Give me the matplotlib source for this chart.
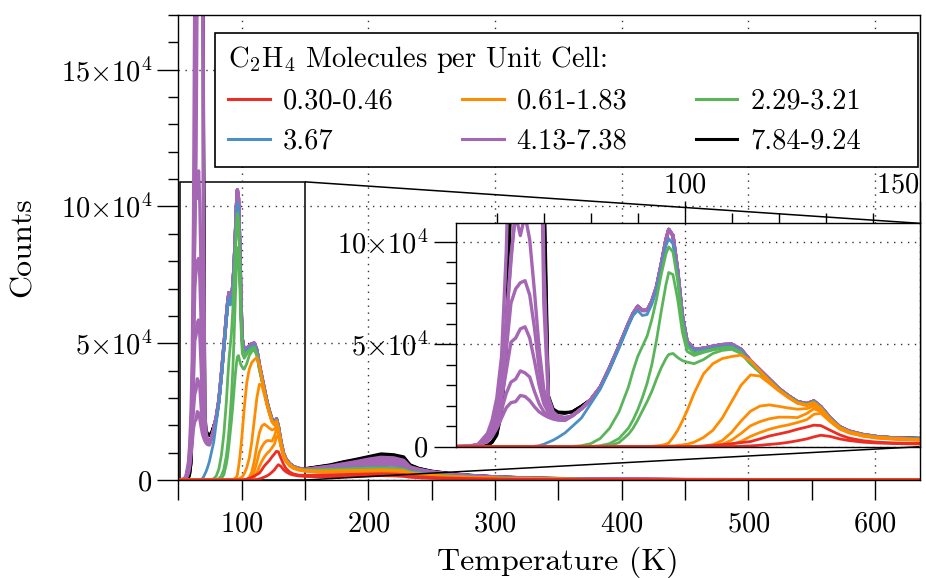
import matplotlib
matplotlib.use('Agg')
import matplotlib.pyplot as plt
from matplotlib.ticker import MultipleLocator, FixedLocator, FixedFormatter
from matplotlib.lines import Line2D
from matplotlib.patches import Rectangle
from mpl_toolkits.axes_grid1.inset_locator import mark_inset

plt.rcParams['font.family'] = 'cmr10'
plt.rcParams['mathtext.fontset'] = 'cm'
plt.rcParams['axes.formatter.use_mathtext'] = True
plt.rcParams['axes.unicode_minus'] = False

# ---------------- data (counts in thousands) ----------------
temps_low = [50, 54, 56, 58, 59, 60, 61, 62, 63, 64,
             65, 66, 67, 68, 69, 70, 71, 72, 73, 74.5]
temps_mid = [76, 78, 80, 82, 84, 86, 88, 89, 90, 91,
             92, 93, 94, 95, 96, 96.6, 97.5, 98.5, 99.5, 100.5,
             102, 104, 106, 108, 110, 112, 114, 116, 118, 120,
             122, 124, 126, 127.5, 129, 131, 133, 135, 138, 141,
             145]
temps_high = [150, 160, 170, 180, 190, 200, 210, 220, 228, 233,
              240, 250, 265, 280, 300, 330, 370, 450, 635]

zero_low = [0, 0, 0, 0, 0, 0, 0, 0, 0, 0, 0, 0, 0, 0, 0, 0, 0, 0, 0, 0]

red_mid = [
    [0, 0, 0, 0, 0, 0, 0, 0, 0, 0, 0, 0, 0, 0, 0, 0, 0, 0, 0, 0,
     0, 0, 0, 0, 0.1, 0.2, 0.4, 0.7, 1.1, 1.5, 2.1, 2.9, 3.8, 4.8, 5.6, 5.0, 3.8, 3.0, 2.2, 1.8, 1.5],
    [0, 0, 0, 0, 0, 0, 0, 0, 0, 0, 0, 0, 0, 0, 0, 0, 0, 0, 0, 0,
     0.1, 0.3, 0.6, 1.0, 1.5, 2.0, 2.5, 3.8, 5.2, 6.2, 7.2, 8.5, 9.6, 10.5, 10.3, 8.0, 5.8, 4.2, 2.9, 2.2, 1.8],
]
red_high = [
    [1.3, 1.2, 1.2, 1.3, 1.4, 1.5, 1.6, 1.5, 1.3, 1.0, 0.8, 0.6, 0.45, 0.35, 0.25, 0.15, 0.1, 0.05, 0.02],
    [1.7, 1.8, 1.9, 2.0, 2.1, 2.2, 2.3, 2.2, 2.0, 1.5, 1.2, 0.9, 0.7, 0.5, 0.35, 0.2, 0.12, 0.06, 0.02],
]

orange_mid = [
    [0, 0, 0, 0, 0, 0, 0, 0, 0, 0, 0, 0, 0, 0, 0, 0, 0, 0, 0, 0,
     0, 0, 0, 0.3, 1.0, 2.6, 5.0, 6.9, 8.5, 9.7, 10.6, 11.8, 13.2, 15.8, 16.3, 12.2, 8.6, 6.7, 5.1, 4.2, 3.6],
    [0, 0, 0, 0, 0, 0, 0, 0, 0, 0, 0, 0, 0, 0, 0, 0, 0, 0, 0, 0,
     0, 0, 0.3, 1.2, 3.2, 6.5, 10.2, 12.2, 13.6, 14.4, 14.4, 14.2, 16.2, 18.5, 17.2, 12.5, 8.9, 6.9, 5.3, 4.3, 3.7],
    [0, 0, 0, 0, 0, 0, 0, 0, 0, 0, 0, 0, 0, 0, 0, 0, 0, 0, 0, 0,
     0, 0.3, 1.0, 3.0, 7.0, 12.5, 17.3, 19.8, 20.4, 19.7, 18.9, 18.3, 18.6, 19.8, 17.8, 12.7, 9.0, 7.0, 5.4, 4.4, 3.8],
    [0, 0, 0, 0, 0, 0, 0, 0, 0, 0, 0, 0, 0, 0, 0.2, 0.3, 0.4, 0.6, 0.9, 1.2,
     2.2, 4.5, 8.0, 14.0, 22.0, 30.0, 35.0, 34.5, 31.0, 27.3, 24.0, 21.2, 20.0, 21.0, 18.4, 13.1, 9.2, 7.1, 5.5, 4.5, 3.85],
    [0, 0, 0, 0, 0, 0, 0, 0, 0, 0, 0.1, 0.2, 0.4, 0.7, 1.2, 1.8, 4.5, 8.0, 12.5, 17.5,
     26.0, 35.5, 40.5, 43.0, 44.0, 44.7, 42.0, 37.0, 32.2, 27.8, 24.4, 21.4, 20.4, 21.5, 18.7, 13.3, 9.3, 7.2, 5.6, 4.6, 3.9],
]
orange_high = [
    [3.2, 2.9, 2.85, 2.9, 3.0, 3.05, 3.1, 3.0, 2.8, 2.2, 1.85, 1.45, 1.05, 0.8, 0.57, 0.33, 0.19, 0.07, 0.02],
    [3.3, 3.0, 3.0, 3.05, 3.15, 3.2, 3.25, 3.15, 2.95, 2.3, 1.95, 1.5, 1.1, 0.84, 0.6, 0.35, 0.2, 0.08, 0.03],
    [3.4, 3.1, 3.1, 3.2, 3.3, 3.35, 3.4, 3.3, 3.1, 2.4, 2.0, 1.6, 1.15, 0.88, 0.62, 0.36, 0.21, 0.08, 0.03],
    [3.45, 3.2, 3.2, 3.3, 3.4, 3.5, 3.55, 3.45, 3.2, 2.5, 2.1, 1.65, 1.2, 0.92, 0.65, 0.38, 0.22, 0.08, 0.03],
    [3.5, 3.3, 3.3, 3.4, 3.5, 3.6, 3.7, 3.6, 3.35, 2.6, 2.2, 1.7, 1.25, 0.95, 0.68, 0.4, 0.23, 0.09, 0.03],
]

green_mid = [
    [0, 0, 0, 0, 0.5, 2.0, 6.0, 9.0, 13.0, 17.5, 22.0, 27.0, 33.0, 38.5, 43.0, 45.0, 45.5, 43.5, 42.0, 41.3,
     40.5, 42.5, 45.5, 47.0, 47.5, 45.5, 40.4, 36.2, 32.0, 27.8, 24.4, 21.4, 20.4, 21.6, 18.8, 13.4, 9.3, 7.1, 5.5, 4.5, 3.9],
    [0, 0, 0.1, 0.5, 1.5, 4.0, 9.0, 13.0, 18.0, 24.0, 31.0, 40.0, 52.0, 66.0, 79.0, 85.0, 84.0, 72.0, 56.0, 46.5,
     44.5, 46.0, 47.2, 48.0, 48.3, 45.8, 40.6, 36.4, 32.2, 27.9, 24.5, 21.5, 20.5, 21.7, 18.9, 13.5, 9.4, 7.2, 5.6, 4.6, 3.95],
    [0.1, 0.5, 1.5, 4.0, 9.0, 17.0, 29.0, 37.0, 44.0, 49.0, 54.0, 62.0, 72.0, 84.0, 94.0, 97.5, 95.0, 81.0, 61.0, 49.0,
     45.5, 46.5, 47.5, 48.2, 48.5, 46.0, 40.8, 36.6, 32.4, 28.0, 24.6, 21.6, 20.6, 21.8, 19.0, 13.6, 9.5, 7.3, 5.7, 4.7, 4.0],
]
green_high = [
    [3.5, 3.5, 3.55, 3.7, 3.85, 3.95, 4.0, 3.9, 3.65, 2.8, 2.35, 1.9, 1.35, 1.0, 0.72, 0.42, 0.24, 0.09, 0.03],
    [3.55, 3.6, 3.7, 3.85, 4.0, 4.1, 4.2, 4.05, 3.8, 2.9, 2.45, 1.95, 1.4, 1.05, 0.75, 0.43, 0.25, 0.1, 0.03],
    [3.6, 3.7, 3.85, 4.0, 4.15, 4.3, 4.4, 4.25, 3.95, 3.0, 2.55, 2.0, 1.45, 1.1, 0.78, 0.45, 0.26, 0.1, 0.03],
]

blue_low = [0, 0, 0, 0, 0, 0, 0, 0, 0, 0, 0, 0, 0, 0.2, 0.5, 1.2, 2.2, 3.2, 4.5, 6.7]
blue_mid = [9.8, 14.0, 21.0, 28.0, 37.5, 48.0, 59.0, 64.0, 66.5, 64.0, 64.5, 69.5, 76.5, 87.0, 98.0, 101.5, 99.0, 83.5, 62.5, 50.0,
            46.8, 47.3, 48.3, 49.0, 49.2, 46.8, 41.5, 37.0, 32.6, 28.2, 24.7, 21.8, 20.8, 22.0, 19.2, 13.8, 9.6, 7.4, 5.8, 4.8, 4.1]
blue_high = [3.7, 3.85, 4.0, 4.2, 4.4, 4.55, 4.65, 4.5, 4.2, 3.2, 2.7, 2.1, 1.55, 1.15, 0.8, 0.48, 0.27, 0.1, 0.03]

purple_low = [
    [0, 0.1, 0.4, 2.5, 5, 9, 14, 19, 21.5, 22, 25, 24.5, 22.5, 19.5, 17, 15.5, 14.3, 13.5, 13, 12.8],
    [0, 0.1, 0.5, 3, 6, 11, 18, 26, 31.5, 33, 37, 36, 34, 27, 21, 17, 15, 13.8, 13.2, 13],
    [0, 0.1, 0.6, 3.5, 7, 13, 23, 37, 51, 53, 57.5, 58.5, 53, 42, 30, 21, 16.5, 14.2, 13.4, 13.2],
    [0, 0.2, 0.8, 4, 8, 15, 27, 47, 70, 77, 80, 81, 74, 58, 38, 24, 17.5, 14.8, 13.8, 13.4],
    [0, 0.2, 0.9, 4.5, 9, 17, 31, 58, 93, 113, 103, 113, 101, 76, 48, 28, 18.5, 15.2, 14.2, 13.6],
    [0, 0.2, 1.0, 5, 10, 19, 34, 62, 90, 118, 190, 235, 255, 260, 210, 70, 21, 16, 14.6, 14],
    [0, 0.3, 1.2, 6.5, 13, 24, 44, 95, 180, 230, 262, 285, 305, 315, 280, 90, 24, 17, 15, 14.3],
]
purple_mid = [15.0, 18.5, 23.0, 29.0, 38.5, 49.0, 60.0, 65.0, 68.5, 66.5, 66.5, 71.0, 78.0, 89.0, 101.0, 106.0, 103.0, 86.0, 64.0, 51.5,
              47.5, 48.0, 49.0, 49.8, 50.0, 47.5, 42.0, 37.5, 33.0, 28.5, 25.0, 22.0, 21.0, 22.3, 19.5, 14.0, 9.8, 7.6, 5.9, 4.9, 4.2]
purple_high = [
    [3.6, 3.9, 4.2, 4.7, 5.2, 5.5, 5.65, 5.5, 5.1, 3.6, 3.05, 2.4, 1.8, 1.35, 0.92, 0.53, 0.3, 0.11, 0.04],
    [3.65, 4.0, 4.35, 4.9, 5.45, 5.85, 6.1, 5.95, 5.45, 3.8, 3.2, 2.5, 1.85, 1.4, 0.95, 0.55, 0.31, 0.12, 0.04],
    [3.7, 4.1, 4.5, 5.1, 5.7, 6.2, 6.55, 6.4, 5.8, 4.0, 3.35, 2.6, 1.9, 1.45, 0.98, 0.57, 0.32, 0.12, 0.04],
    [3.75, 4.2, 4.65, 5.3, 5.95, 6.55, 7.0, 6.85, 6.15, 4.2, 3.5, 2.7, 2.0, 1.5, 1.0, 0.6, 0.34, 0.13, 0.04],
    [3.8, 4.3, 4.8, 5.5, 6.2, 6.9, 7.45, 7.3, 6.5, 4.4, 3.65, 2.8, 2.05, 1.55, 1.05, 0.62, 0.36, 0.14, 0.05],
    [3.85, 4.4, 4.95, 5.7, 6.45, 7.25, 7.9, 7.7, 6.85, 4.6, 3.8, 2.9, 2.1, 1.6, 1.1, 0.65, 0.38, 0.15, 0.05],
    [3.9, 4.5, 5.1, 5.9, 6.7, 7.6, 8.3, 8.1, 7.2, 4.8, 3.9, 3.0, 2.2, 1.65, 1.15, 0.68, 0.4, 0.16, 0.05],
]

black_low = [
    [0, 0, 0.1, 0.6, 2, 5.5, 16, 45, 120, 190, 230, 260, 280, 295, 280, 110, 21, 17.5, 16.5, 16.2],
    [0, 0, 0.1, 0.6, 2.2, 6, 18, 50, 130, 205, 245, 275, 295, 310, 300, 125, 23, 18, 16.8, 16.5],
    [0, 0, 0.1, 0.7, 2.5, 6.5, 20, 55, 140, 215, 260, 290, 310, 325, 320, 140, 25, 18.5, 17, 16.8],
]
black_mid = [17.0, 19.8, 23.0, 29.0, 38.5, 49.0, 60.0, 65.0, 68.5, 66.5, 66.5, 71.0, 78.0, 89.0, 101.0, 106.0, 103.0, 86.0, 64.0, 51.5,
             47.5, 48.0, 49.0, 49.8, 50.0, 47.5, 42.0, 37.5, 33.0, 28.5, 25.0, 22.0, 21.0, 22.3, 19.5, 14.0, 9.8, 7.6, 5.9, 4.9, 4.3]
black_high = [
    [4.05, 4.7, 5.3, 6.3, 7.2, 8.1, 9.0, 8.75, 7.95, 5.2, 4.1, 3.1, 2.3, 1.7, 1.18, 0.7, 0.39, 0.16, 0.05],
    [4.1, 4.8, 5.45, 6.5, 7.4, 8.35, 9.3, 9.0, 8.2, 5.4, 4.2, 3.2, 2.35, 1.75, 1.2, 0.72, 0.4, 0.17, 0.06],
    [4.2, 4.9, 5.6, 6.7, 7.6, 8.6, 9.6, 9.3, 8.5, 5.6, 4.3, 3.3, 2.4, 1.8, 1.25, 0.75, 0.42, 0.18, 0.06],
]

labels = ['0.30-0.46', '0.61-1.83', '2.29-3.21', '3.67', '4.13-7.38', '7.84-9.24']
colors = ['#ec2d23', '#ff8c00', '#5ab55a', '#4b8fc4', '#a566b4', '#000000']
legend_title = 'C$_2$H$_4$ Molecules per Unit Cell:'
y_tick_vals = [0, 50, 100, 150]
y_tick_labels = ['$0$', r'$5{\times}10^4$', r'$10{\times}10^4$', r'$15{\times}10^4$']
inset_y_vals = [0, 50, 100]
inset_y_labels = ['$0$', r'$5{\times}10^4$', r'$10{\times}10^4$']

temps = temps_low + temps_mid + temps_high

# assemble curves per group (draw order: black first, red last)
groups = []
groups.append(('#000000', [black_low[i] + black_mid + black_high[i] for i in range(3)], 2.0))
groups.append((colors[4], [purple_low[i] + purple_mid + purple_high[i] for i in range(7)], 2.4))
groups.append((colors[3], [blue_low + blue_mid + blue_high], 2.0))
groups.append((colors[2], [zero_low + green_mid[i] + green_high[i] for i in range(3)], 2.0))
groups.append((colors[1], [zero_low + orange_mid[i] + orange_high[i] for i in range(5)], 2.0))
groups.append((colors[0], [zero_low + red_mid[i] + red_high[i] for i in range(2)], 2.0))

W, H = 926, 578
fig = plt.figure(figsize=(W / 100, H / 100), dpi=100)
ax = fig.add_axes([178.3 / W, 1 - 480 / H, (919.5 - 178.3) / W, (480 - 15) / H])
axins = fig.add_axes([456 / W, 1 - 446.7 / H, (919.5 - 456) / W, (446.7 - 223.3) / H])

for a in (ax, axins):
    for col, curves, lw in groups:
        for c in curves:
            a.plot(temps, c, color=col, lw=lw, solid_joinstyle='round')
    for s in a.spines.values():
        s.set_linewidth(1.0)
    a.grid(True, which='major', linestyle=(0, (1, 4)), color='0.2', linewidth=1.0)

ax.set_xlim(50, 635)
ax.set_ylim(0, 170)
ax.xaxis.set_major_locator(MultipleLocator(100))
ax.xaxis.set_minor_locator(MultipleLocator(50))
ax.yaxis.set_major_locator(FixedLocator(y_tick_vals))
ax.yaxis.set_major_formatter(FixedFormatter(y_tick_labels))
ax.yaxis.set_minor_locator(MultipleLocator(10))
ax.tick_params(axis='y', which='major', direction='out', length=15, width=1, pad=3.5, labelsize=20.5)
ax.tick_params(axis='y', which='minor', direction='out', length=7, width=1)
ax.tick_params(axis='x', which='both', direction='out', length=14.5, width=1, pad=8, labelsize=20.5)

ax.set_xlabel('Temperature (K)', fontsize=23)
ax.set_ylabel('Counts', fontsize=23)
ax.xaxis.label.set_va('center')
ax.yaxis.label.set_va('center')
ax.xaxis.set_label_coords((558 - 178.3) / (919.5 - 178.3), (480 - 562) / 465)
ax.yaxis.set_label_coords((23 - 178.3) / (919.5 - 178.3), 0.5)

axins.set_xlim(51.3, 150)
axins.set_ylim(0, 109)
axins.xaxis.set_major_locator(FixedLocator([100, 150]))
axins.xaxis.set_minor_locator(MultipleLocator(10))
axins.yaxis.set_major_locator(FixedLocator(inset_y_vals))
axins.yaxis.set_major_formatter(FixedFormatter(inset_y_labels))
axins.yaxis.set_minor_locator(MultipleLocator(10))
axins.tick_params(axis='x', which='both', top=True, bottom=False, labeltop=True, labelbottom=False,
                  direction='out', width=1)
axins.tick_params(axis='x', which='major', length=16, pad=2, labelsize=20.5)
axins.tick_params(axis='x', which='minor', length=7)
axins.tick_params(axis='y', which='major', direction='out', length=16, width=1, pad=4, labelsize=20.5)
axins.tick_params(axis='y', which='minor', direction='out', length=7, width=1)

mark_inset(ax, axins, loc1=1, loc2=4, fc='none', ec='black', lw=1.1)

# keep the right-most inset label inside the figure (as in the reference)
fig.canvas.draw()
top_labels = [t for t in axins.xaxis.get_majorticklabels() if t.get_text()]
if top_labels:
    top_labels[-1].set_horizontalalignment('right')

# legend
handles = [Line2D([], [], color=c, lw=2.2) for c in colors]
order = [0, 3, 1, 4, 2, 5]
leg = ax.legend([handles[i] for i in order], [labels[i] for i in order], ncol=3,
                loc='upper left', bbox_to_anchor=(228 / W, 1 - 44 / H), bbox_transform=fig.transFigure,
                frameon=False, fontsize=20.5, title=legend_title, title_fontsize=20.5,
                alignment='left', handlelength=1.47, handletextpad=0.45, columnspacing=2.4,
                labelspacing=0.48, borderpad=0, borderaxespad=0)
leg.set_zorder(6)
frame = Rectangle((215 / W, 1 - 167 / H), (918 - 215) / W, (167 - 33) / H, transform=fig.transFigure,
                  facecolor='white', edgecolor='black', lw=1.2, zorder=5.5, clip_on=False)
ax.add_patch(frame)

fig.savefig('out.png', dpi=100)
